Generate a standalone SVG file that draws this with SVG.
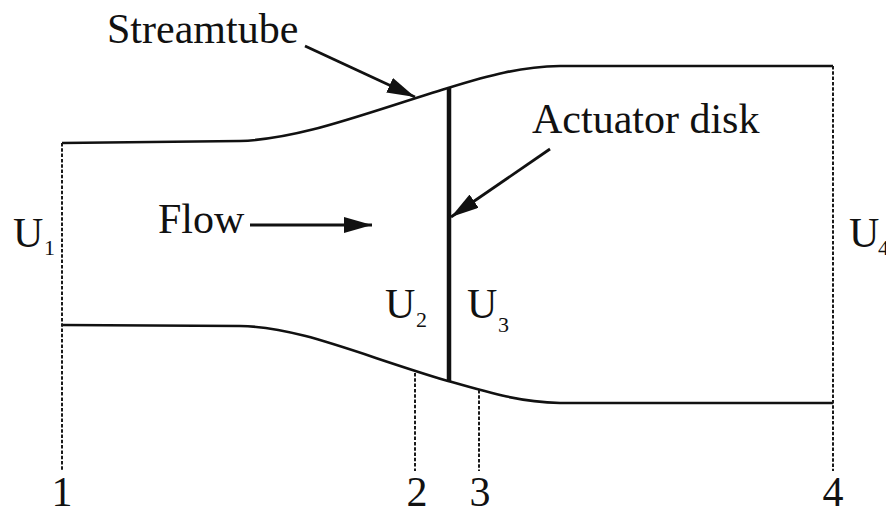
<svg xmlns="http://www.w3.org/2000/svg" width="886" height="511" viewBox="0 0 886 511">
<style>
.t{font-family:"Liberation Serif","Times New Roman",serif;font-size:42px;fill:#111}
.s{font-family:"Liberation Serif","Times New Roman",serif;font-size:22px;fill:#111}
.d{font-family:"Liberation Serif","Times New Roman",serif;font-size:42px;fill:#111;text-anchor:middle}
.tube{fill:none;stroke:#111;stroke-width:2.6}
.dash{fill:none;stroke:#1a1a1a;stroke-width:2;stroke-dasharray:3.5 1.8}
.arr{fill:none;stroke:#111;stroke-width:2.8;marker-end:url(#ah)}
</style>
<defs>
<marker id="ah" markerUnits="userSpaceOnUse" markerWidth="30" markerHeight="16" refX="28" refY="8" orient="auto">
<path d="M0,0 L28,8 L0,16 z" fill="#111"/>
</marker>
</defs>
<rect width="886" height="511" fill="#fff"/>
<g id="streamtube">
<path class="tube" d="M62,143 L240,141 C300,139 360,115 448,88 C490,75 520,67 560,66 L833,66"/>
<path class="tube" d="M62,325 L240,326 C300,327 360,355 448,381 C490,393 520,402 560,403 L833,403"/>
</g>
<g id="stations">
<line class="dash" x1="62" y1="143" x2="62" y2="471"/>
<line class="dash" x1="833" y1="66" x2="833" y2="471"/>
<line class="dash" x1="415" y1="373" x2="415" y2="471"/>
<line class="dash" x1="479" y1="390" x2="479" y2="471"/>
</g>
<g id="disk">
<line x1="449" y1="88" x2="449" y2="382" stroke="#111" stroke-width="4.5"/>
</g>
<g id="connectors">
<line class="arr" x1="305" y1="46" x2="415" y2="97"/>
<line class="arr" x1="550" y1="149" x2="451" y2="217"/>
<line class="arr" x1="250" y1="225" x2="372" y2="225"/>
</g>
<g id="labels">
<text class="t" x="107" y="43">Streamtube</text>
<text class="t" x="532" y="133">Actuator disk</text>
<text class="t" x="158" y="233">Flow</text>
<text class="t" x="13" y="247">U</text><text class="s" x="44" y="255">1</text>
<text class="t" x="385" y="318">U</text><text class="s" x="416" y="327">2</text>
<text class="t" x="467" y="318">U</text><text class="s" x="498" y="332">3</text>
<text class="t" x="849" y="247">U</text><text class="s" x="878" y="255">4</text>
<text class="d" x="62" y="506">1</text>
<text class="d" x="417" y="506">2</text>
<text class="d" x="480" y="506">3</text>
<text class="d" x="833" y="506">4</text>
</g>
</svg>
